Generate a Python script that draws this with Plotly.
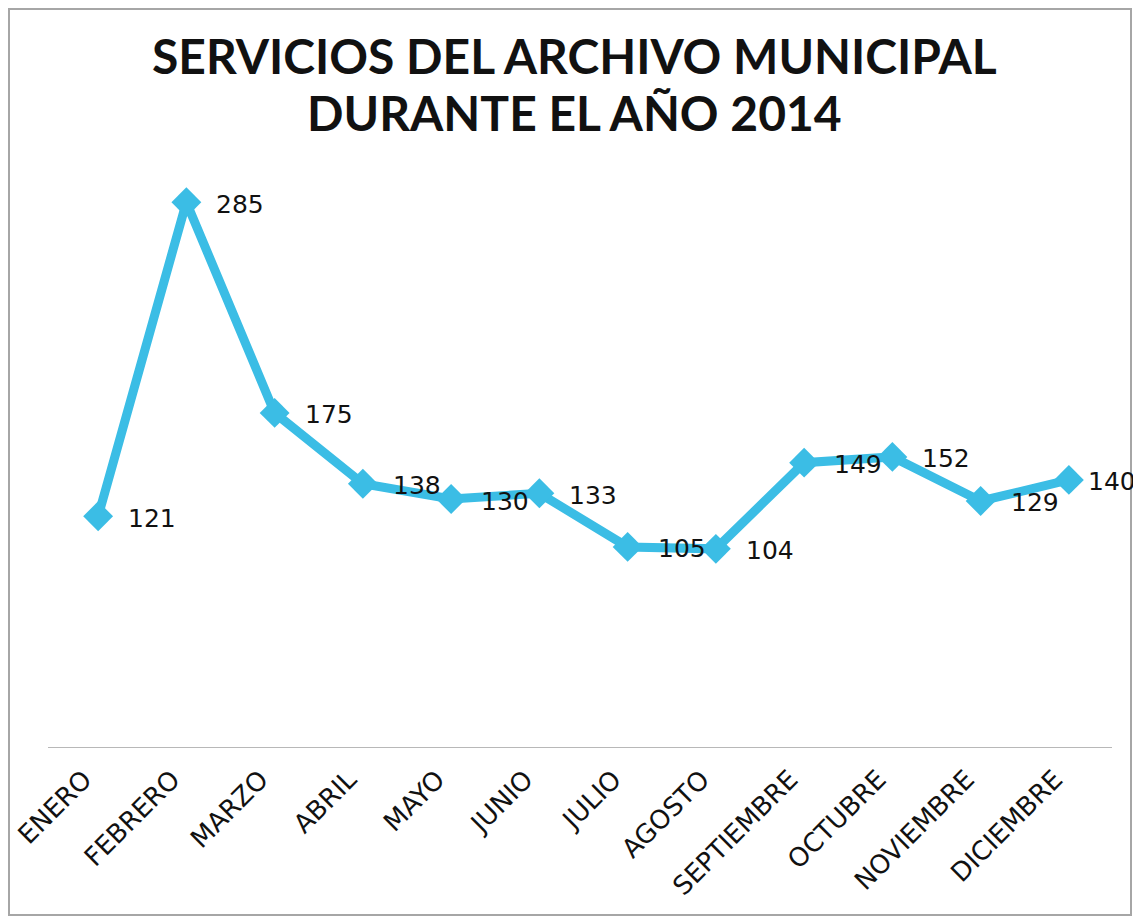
import plotly.graph_objects as go

months = ["ENERO", "FEBRERO", "MARZO", "ABRIL", "MAYO", "JUNIO", "JULIO",
          "AGOSTO", "SEPTIEMBRE", "OCTUBRE", "NOVIEMBRE", "DICIEMBRE"]
services = [121, 285, 175, 138, 130, 133, 105, 104, 149, 152, 129, 140]
title_lines = ["SERVICIOS DEL ARCHIVO MUNICIPAL", "DURANTE EL AÑO 2014"]

# page has an 8px body margin: offset every layout coordinate accordingly
OFF = 8
W, H = 1141 - OFF, 924 - 2 * OFF
LINE_COLOR = "#3BBDE5"


def px(xp):
    return (xp - OFF) / W


def py(yp):
    return (H - (yp - OFF)) / H


fig = go.Figure()

fig.add_trace(go.Scatter(
    x=months, y=services, mode="lines+markers",
    line=dict(color=LINE_COLOR, width=9),
    marker=dict(symbol="diamond", size=23, color=LINE_COLOR),
    showlegend=False,
))

for i, (m, v) in enumerate(zip(months, services)):
    last = i == len(months) - 1
    fig.add_annotation(x=m, y=v, text=str(v), showarrow=False,
                       xanchor="left", yanchor="middle",
                       xshift=17 if last else 28, yshift=-2,
                       font=dict(family="DejaVu Sans", size=25, color="#111111"))

# title lines
for line, yc in zip(title_lines, [55, 113]):
    fig.add_annotation(xref="paper", yref="paper", x=px(574), y=py(yc),
                       text="<b>" + line + "</b>", showarrow=False,
                       xanchor="center", yanchor="middle",
                       font=dict(family="Lato", size=48, color="#111111"))

# frame
fig.add_shape(type="rect", xref="paper", yref="paper",
              x0=px(9), x1=px(1131), y0=py(915), y1=py(9),
              line=dict(color="#A6A6A6", width=2), layer="below")

x_dom = (px(54), px(1113))
y_dom = (py(748), py(173.5))

# category axis line
fig.add_shape(type="line", xref="paper", yref="y",
              x0=px(48), x1=px(1112), y0=0, y1=0,
              line=dict(color="#A0A0A0", width=1.5))

fig.update_layout(
    width=W, height=H,
    margin=dict(l=0, r=0, t=0, b=0, autoexpand=False),
    paper_bgcolor="white", plot_bgcolor="white",
    xaxis=dict(domain=list(x_dom), range=[-0.5, 11.5], showgrid=False,
               showline=False, zeroline=False, ticks="", tickangle=-45,
               automargin=False, ticklabelstandoff=10, ticklabelshift=-14,
               tickfont=dict(family="DejaVu Sans", size=26, color="#111111")),
    yaxis=dict(domain=list(y_dom), range=[0, 300], visible=False,
               automargin=False),
)

fig.write_html("out.html")
